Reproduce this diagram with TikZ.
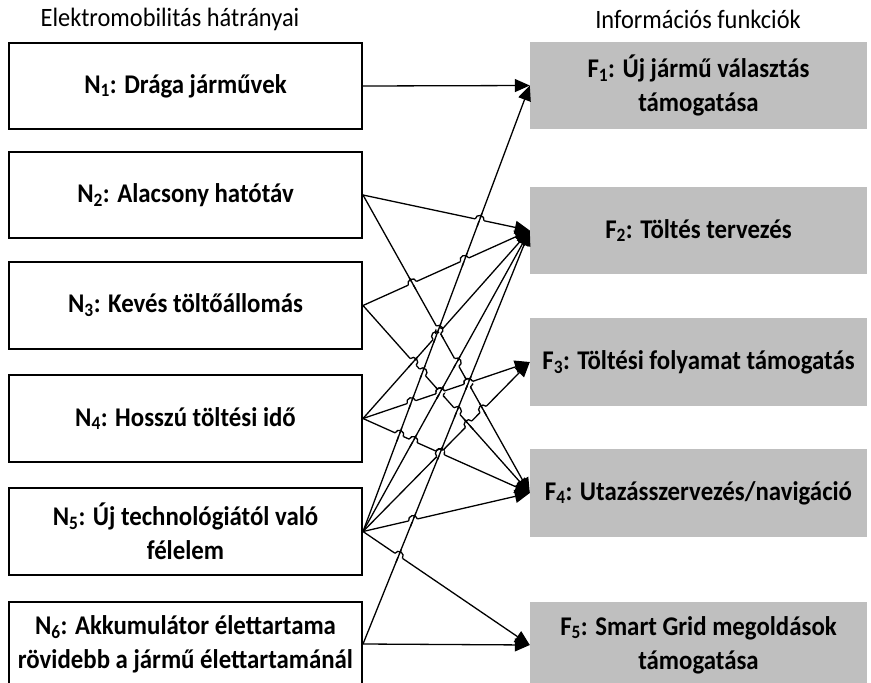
\documentclass[tikz,border=0pt]{standalone}
\usepackage{fontspec}
\setmainfont{Carlito}[FakeStretch=0.92]
\usetikzlibrary{arrows.meta,calc}
\definecolor{boxgray}{RGB}{191,191,191}
\newcommand\lblfont{\fontsize{27}{34}\selectfont}
\newcommand\ttlfont{\fontsize{26.5}{30}\selectfont}
\newcommand\hopr{4.5}
% line #1.east--#2.west jumps over line #3.east--#4.west
\newcommand\hopover[4]{%
  \pgfmathanglebetweenpoints{\pgfpointanchor{#1}{east}}{\pgfpointanchor{#2}{west}}\let\hopA\pgfmathresult
  \pgfmathanglebetweenpoints{\pgfpointanchor{#3}{east}}{\pgfpointanchor{#4}{west}}\let\hopB\pgfmathresult
  \begin{scope}[shift={(intersection of #1.east--#2.west and #3.east--#4.west)}, x=1pt, y=1pt]
    \draw[white, line width=3.2pt, rotate=\hopA] (-\hopr,0) -- (\hopr,0);
    \draw[conn, rotate=\hopB] (-\hopr-2.5,0) -- (\hopr+2.5,0);
    \draw[conn, rotate=\hopA] (-\hopr,0) arc[start angle=180, end angle=0, radius=\hopr];
  \end{scope}}
\begin{document}
\begin{tikzpicture}[x=1pt,y=-1pt,
  nbox/.style={draw, line width=2pt, minimum width=353pt, align=center, font=\lblfont\bfseries, inner sep=0pt},
  fbox/.style={fill=boxgray, minimum width=337pt, align=center, font=\lblfont\bfseries, inner sep=0pt},
  title/.style={font=\ttlfont, inner sep=0pt},
  conn/.style={line width=1.3pt},
  arr/.style={conn, -{Triangle[length=15pt,width=13pt]}}]
\useasboundingbox (0,0) rectangle (871,683);
\node[title] (TL) at (170,19) {Elektromobilitás hátrányai};
\node[title] (TR) at (698,19) {Információs funkciók};

\node[nbox, minimum height=86pt] (N1) at (185.5,86) {N\textsubscript{1}: Drága járművek};
\node[nbox, minimum height=86pt] (N2) at (185.5,195) {N\textsubscript{2}: Alacsony hatótáv};
\node[nbox, minimum height=87pt] (N3) at (185.5,305.5) {N\textsubscript{3}: Kevés töltőállomás};
\node[nbox, minimum height=87pt] (N4) at (185.5,418.5) {N\textsubscript{4}: Hosszú töltési idő};
\node[nbox, minimum height=87pt] (N5) at (185.5,531.5) {N\textsubscript{5}: Új technológiától való\\félelem};
\node[nbox, minimum height=84pt] (N6) at (185.5,644) {N\textsubscript{6}: Akkumulátor élettartama\\rövidebb a jármű élettartamánál};

\node[fbox, minimum height=87pt] (F1) at (698.5,85.5) {F\textsubscript{1}: Új jármű választás\\támogatása};
\node[fbox, minimum height=87pt] (F2) at (698.5,230.5) {F\textsubscript{2}: Töltés tervezés};
\node[fbox, minimum height=88pt] (F3) at (698.5,362) {F\textsubscript{3}: Töltési folyamat támogatás};
\node[fbox, minimum height=88pt] (F4) at (698.5,493) {F\textsubscript{4}: Utazásszervezés/navigáció};
\node[fbox, minimum height=86pt] (F5) at (698.5,645) {F\textsubscript{5}: Smart Grid megoldások\\támogatása};

\draw[arr] (N1.east) -- (F1.west);
\draw[arr] (N2.east) -- (F2.west);
\draw[arr] (N2.east) -- (F4.west);
\draw[arr] (N3.east) -- (F2.west);
\draw[arr] (N3.east) -- (F4.west);
\draw[arr] (N4.east) -- (F2.west);
\draw[arr] (N4.east) -- (F3.west);
\draw[arr] (N4.east) -- (F4.west);
\draw[arr] (N5.east) -- (F1.west);
\draw[arr] (N5.east) -- (F2.west);
\draw[arr] (N5.east) -- (F3.west);
\draw[arr] (N5.east) -- (F4.west);
\draw[arr] (N5.east) -- (F5.west);
\draw[arr] (N6.east) -- (F2.west);
\draw[arr] (N6.east) -- (F5.west);

\hopover{N2}{F2}{N5}{F1}
\hopover{N3}{F2}{N2}{F4}
\hopover{N4}{F2}{N2}{F4}
\hopover{N4}{F3}{N2}{F4}
\hopover{N2}{F4}{N5}{F1}
\hopover{N2}{F4}{N5}{F2}
\hopover{N5}{F3}{N2}{F4}
\hopover{N2}{F4}{N6}{F2}
\hopover{N3}{F2}{N5}{F1}
\hopover{N3}{F4}{N4}{F2}
\hopover{N4}{F3}{N3}{F4}
\hopover{N3}{F4}{N5}{F1}
\hopover{N3}{F4}{N5}{F2}
\hopover{N5}{F3}{N3}{F4}
\hopover{N3}{F4}{N6}{F2}
\hopover{N4}{F2}{N5}{F1}
\hopover{N4}{F3}{N5}{F1}
\hopover{N4}{F3}{N5}{F2}
\hopover{N4}{F3}{N6}{F2}
\hopover{N4}{F4}{N5}{F1}
\hopover{N4}{F4}{N5}{F2}
\hopover{N4}{F4}{N5}{F3}
\hopover{N4}{F4}{N6}{F2}
\hopover{N5}{F3}{N6}{F2}
\hopover{N5}{F4}{N6}{F2}
\hopover{N5}{F5}{N6}{F2}
\end{tikzpicture}
\end{document}
